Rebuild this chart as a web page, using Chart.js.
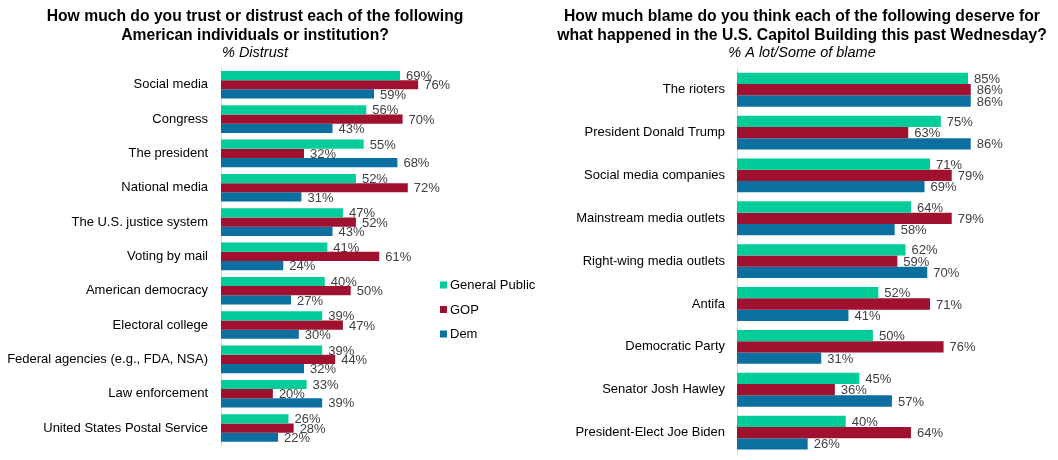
<!DOCTYPE html>
<html>
<head>
<meta charset="utf-8">
<script src="https://cdn.jsdelivr.net/npm/chart.js@4/dist/chart.umd.min.js"></script>
<style>
  html, body { margin: 0; padding: 0; background: #ffffff; }
  #wrap { position: relative; width: 1058px; height: 460px; overflow: hidden; }
  #c1 { position: absolute; left: 0; top: 0; }
  #c2 { position: absolute; left: 546px; top: 0; }
</style>
</head>
<body>
<div id="wrap">
  <canvas id="c1" width="546" height="460"></canvas>
  <canvas id="c2" width="512" height="460"></canvas>
</div>
<script>
// ---- Data: left chart (% Distrust) ----
const trustCategories = [
  "Social media", "Congress", "The president", "National media",
  "The U.S. justice system", "Voting by mail", "American democracy",
  "Electoral college", "Federal agencies (e.g., FDA, NSA)",
  "Law enforcement", "United States Postal Service"
];
const trustGeneral = [69, 56, 55, 52, 47, 41, 40, 39, 39, 33, 26];
const trustGOP     = [76, 70, 32, 72, 52, 61, 50, 47, 44, 20, 28];
const trustDem     = [59, 43, 68, 31, 43, 24, 27, 30, 32, 39, 22];

// ---- Data: right chart (% A lot/Some of blame) ----
const blameCategories = [
  "The rioters", "President Donald Trump", "Social media companies",
  "Mainstream media outlets", "Right-wing media outlets", "Antifa",
  "Democratic Party", "Senator Josh Hawley", "President-Elect Joe Biden"
];
const blameGeneral = [85, 75, 71, 64, 62, 52, 50, 45, 40];
const blameGOP     = [86, 63, 79, 79, 59, 71, 76, 36, 64];
const blameDem     = [86, 86, 69, 58, 70, 41, 31, 57, 26];

const seriesNames = ["General Public", "GOP", "Dem"];

// ---- Styles ----
const COLORS = ["#02cc99", "#a0112f", "#0b6fa0"];
const FONT = '"Liberation Sans", Arial, Helvetica, sans-serif';
Chart.defaults.font.family = FONT;
Chart.defaults.color = "#000000";

const valueLabels = {
  id: "valueLabels",
  afterDatasetsDraw(chart) {
    const ctx = chart.ctx;
    ctx.save();
    ctx.font = "13px " + FONT;
    ctx.fillStyle = "#404040";
    ctx.textAlign = "left";
    ctx.textBaseline = "middle";
    chart.data.datasets.forEach((ds, i) => {
      const meta = chart.getDatasetMeta(i);
      meta.data.forEach((bar, j) => {
        ctx.fillText(ds.data[j] + "%", bar.x + 6, bar.y + 1);
      });
    });
    ctx.restore();
  }
};

const customLegend = {
  id: "customLegend",
  afterDraw(chart, args, opts) {
    if (!opts.show) return;
    const ctx = chart.ctx;
    ctx.save();
    ctx.font = "13px " + FONT;
    ctx.textAlign = "left";
    ctx.textBaseline = "middle";
    chart.data.datasets.forEach((ds, i) => {
      const y = opts.y + i * opts.gap;
      ctx.fillStyle = ds.backgroundColor;
      ctx.fillRect(opts.x, y - 3.5, 7, 7);
      ctx.fillStyle = "#000000";
      ctx.fillText(ds.label, opts.x + 10, y + 0.5);
    });
    ctx.restore();
  }
};

function makeDatasets(a, b, c) {
  return [a, b, c].map((d, i) => ({
    label: seriesNames[i],
    data: d,
    backgroundColor: COLORS[i],
    borderWidth: 0,
    barPercentage: 1.0
  }));
}

function makeChart(el, cfg) {
  return new Chart(document.getElementById(el), {
    type: "bar",
    data: { labels: cfg.labels, datasets: cfg.datasets },
    plugins: [valueLabels, customLegend],
    options: {
      responsive: false,
      animation: false,
      indexAxis: "y",
      datasets: { bar: { categoryPercentage: cfg.catPct } },
      layout: { padding: { top: 0, bottom: cfg.padBottom, left: 0, right: cfg.padRight } },
      scales: {
        x: { display: false, min: 0, max: cfg.xMax },
        y: {
          afterFit: s => { s.width = cfg.yWidth; s.paddingTop = 0; s.paddingBottom = 0; },
          grid: { display: false, drawTicks: false },
          border: { display: true, color: "#d9d9d9", width: 1 },
          ticks: { color: "#000000", padding: cfg.tickPad, font: { size: 13 } }
        }
      },
      plugins: {
        legend: { display: false },
        tooltip: { enabled: false },
        title: {
          display: true,
          text: cfg.title,
          color: "#000000",
          font: { size: 15.7, weight: "bold", lineHeight: 1.2 },
          padding: { top: 7, bottom: 0 }
        },
        subtitle: {
          display: true,
          text: cfg.subtitle,
          color: "#000000",
          font: { size: 14.5, style: "italic", lineHeight: 1.2 },
          padding: { top: 0, bottom: cfg.subPad }
        },
        customLegend: cfg.legend
      }
    }
  });
}

makeChart("c1", {
  labels: trustCategories,
  datasets: makeDatasets(trustGeneral, trustGOP, trustDem),
  title: ["How much do you trust or distrust each of the following", "American individuals or institution?"],
  subtitle: "% Distrust",
  catPct: 0.805,
  padBottom: 14.8,
  padRight: 36,
  subPad: 5.5,
  yWidth: 221,
  tickPad: 13,
  xMax: 111.4,
  legend: { show: true, x: 440, y: 285, gap: 24.5 }
});

makeChart("c2", {
  labels: blameCategories,
  datasets: makeDatasets(blameGeneral, blameGOP, blameDem),
  title: ["How much blame do you think each of the following deserve for", "what happened in the U.S. Capitol Building this past Wednesday?"],
  subtitle: "% A lot/Some of blame",
  catPct: 0.79,
  padBottom: 6,
  padRight: 0,
  subPad: 6.2,
  yWidth: 191,
  tickPad: 12,
  xMax: 118.1,
  legend: { show: false }
});
</script>
</body>
</html>
